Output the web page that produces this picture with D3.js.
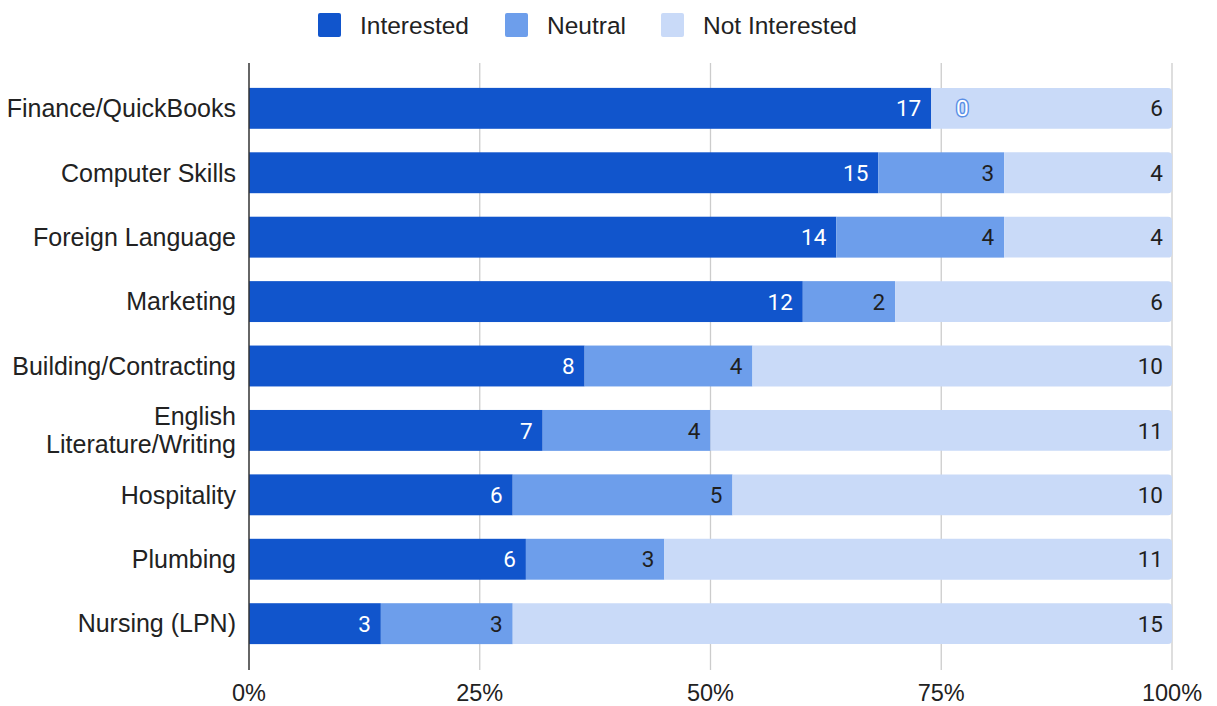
<!DOCTYPE html>
<html><head><meta charset="utf-8">
<script src="https://cdn.jsdelivr.net/npm/d3@7"></script>
<style>body{margin:0;background:#fff;font-family:"Liberation Sans",Arial,sans-serif;}</style>
</head><body><svg id="c" width="1217" height="706"></svg>
<script>
const categories = ["Finance/QuickBooks","Computer Skills","Foreign Language","Marketing","Building/Contracting","English Literature/Writing","Hospitality","Plumbing","Nursing (LPN)"];
const seriesNames = ["Interested","Neutral","Not Interested"];
const interested = [17,15,14,12,8,7,6,6,3];
const neutral = [0,3,4,2,4,4,5,3,3];
const notInterested = [6,4,4,6,10,11,10,11,15];
const tickLabels = ["0%","25%","50%","75%","100%"];
const colors = ["#1155cc","#6d9eeb","#c9daf8"];
const labelColors = ["#ffffff","#1f1f1f","#1f1f1f"];

(function(){
const svg = d3.select("#c");
const pL = 249, pR = 1172, pT = 75, pB = 657;
const x = d3.scaleLinear().domain([0,1]).range([pL,pR]);
const y = d3.scaleBand().domain(categories).range([pT,pB]).paddingInner(0.365).paddingOuter(0.2);
const AF = "'Liberation Sans',Arial,sans-serif";
const RF = "Roboto,'Liberation Sans',sans-serif";

const rows = categories.map((c,i)=>{
  const vals=[interested[i],neutral[i],notInterested[i]];
  const tot=d3.sum(vals); let acc=0;
  return {c, segs: vals.map((v,k)=>{const s={k,v,x0:acc/tot,x1:(acc+v)/tot};acc+=v;return s;})};
});

const ticks=[0,0.25,0.5,0.75,1];
svg.append("g").selectAll("line").data(ticks.slice(1)).join("line")
  .attr("x1",d=>x(d)).attr("x2",d=>x(d)).attr("y1",63).attr("y2",670)
  .attr("stroke","#cccccc").attr("stroke-width",1.3);

const g = svg.append("g");
rows.forEach(r=>{
  const yy=y(r.c), h=y.bandwidth();
  r.segs.forEach(s=>{
    if(s.v===0) return;
    const x0=x(s.x0), x1=x(s.x1);
    if(s.k===2){
      const rr=4;
      g.append("path").attr("fill",colors[2])
        .attr("d",`M${x0},${yy}H${x1-rr}Q${x1},${yy} ${x1},${yy+rr}V${yy+h-rr}Q${x1},${yy+h} ${x1-rr},${yy+h}H${x0}Z`);
    } else {
      g.append("rect").attr("x",x0).attr("y",yy).attr("width",x1-x0).attr("height",h).attr("fill",colors[s.k]);
    }
  });
  r.segs.forEach(s=>{
    const x1=x(s.x1);
    const t=g.append("text").attr("y",yy+h/2).attr("dy","0.36em")
      .attr("font-family",RF).attr("font-size",22.5).text(s.v);
    if(s.v===0){
      t.attr("x",x1+31).attr("text-anchor","middle").attr("fill","#fff")
       .attr("stroke","#5a8fe6").attr("stroke-width",3).attr("stroke-linejoin","round").attr("paint-order","stroke");
    } else {
      t.attr("x",x1-(s.k===2?9:10)).attr("text-anchor","end").attr("fill",labelColors[s.k]);
    }
  });
});

svg.append("line").attr("x1",pL).attr("x2",pL).attr("y1",63).attr("y2",670).attr("stroke","#333").attr("stroke-width",1.5);

svg.append("g").selectAll("text").data(ticks).join("text")
  .attr("x",d=>x(d)).attr("y",701).attr("text-anchor","middle").attr("font-family",AF).attr("font-size",23.5).attr("fill","#222")
  .text((d,i)=>tickLabels[i]);

const cl = svg.append("g");
categories.forEach(c=>{
  const cy=y(c)+y.bandwidth()/2;
  let lines = c==="English Literature/Writing" ? ["English","Literature/Writing"] : [c];
  const t=cl.append("text").attr("x",236).attr("text-anchor","end").attr("font-family",AF).attr("font-size",25).attr("fill","#222");
  lines.forEach((l,i)=>{
    t.append("tspan").attr("x",236).attr("y",cy+ (i-(lines.length-1)/2)*28.5).attr("dy","0.35em").text(l);
  });
});

const legX=[318,505,661];
seriesNames.forEach((n,i)=>{
  svg.append("rect").attr("x",legX[i]).attr("y",13).attr("width",23).attr("height",24).attr("rx",2).attr("fill",colors[i]);
  svg.append("text").attr("x",legX[i]+42).attr("y",25).attr("dy","0.35em").attr("font-family",AF).attr("font-size",24.5).attr("fill","#222").text(n);
});
})();
</script></body></html>
